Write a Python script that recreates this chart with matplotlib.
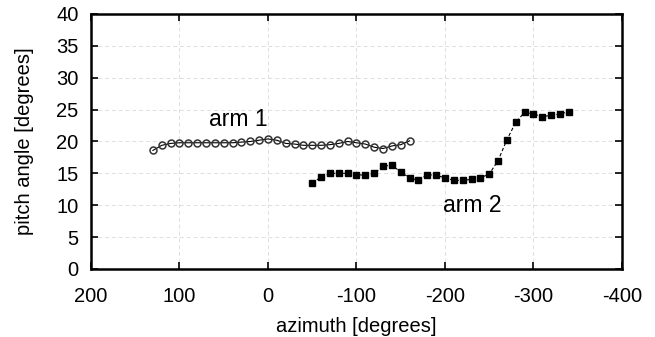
import matplotlib
matplotlib.use("Agg")
import matplotlib.pyplot as plt

plt.rcParams['font.family'] = ['Liberation Sans', 'DejaVu Sans']
plt.rcParams['axes.unicode_minus'] = False

arm1_azimuth = [130, 120, 110, 100, 90, 80, 70, 60, 50, 40, 30, 20, 10, 0,
                -10, -20, -30, -40, -50, -60, -70, -80, -90, -100, -110, -120,
                -130, -140, -150, -160]
arm1_pitch = [18.6, 19.4, 19.7, 19.8, 19.8, 19.8, 19.8, 19.8, 19.8, 19.8, 19.9,
              20.0, 20.2, 20.4, 20.2, 19.7, 19.6, 19.4, 19.4, 19.4, 19.5, 19.7,
              20.0, 19.8, 19.6, 19.1, 18.9, 19.3, 19.5, 20.1]

arm2_azimuth = [-50, -60, -70, -80, -90, -100, -110, -120, -130, -140, -150,
                -160, -170, -180, -190, -200, -210, -220, -230, -240, -250,
                -260, -270, -280, -290, -300, -310, -320, -330, -340]
arm2_pitch = [13.5, 14.4, 15.0, 15.0, 15.0, 14.8, 14.7, 15.0, 16.1, 16.3, 15.2,
              14.3, 13.9, 14.8, 14.7, 14.3, 13.9, 13.9, 14.05, 14.3, 14.9,
              17.0, 20.3, 23.0, 24.6, 24.3, 23.9, 24.1, 24.3, 24.7]

x_ticks = [200, 100, 0, -100, -200, -300, -400]
y_ticks = [0, 5, 10, 15, 20, 25, 30, 35, 40]

fig = plt.figure(figsize=(6.55, 3.37), dpi=100)
ax = fig.add_axes([0.1389, 0.2018, 0.8107, 0.7567])

ax.plot(arm1_azimuth, arm1_pitch, color='black', lw=0.8, marker='o', ms=5,
        mfc='none', mec='#333333', mew=1.1)
ax.plot(arm2_azimuth, arm2_pitch, color='black', lw=0.8, ls=(0, (3, 2)),
        marker='s', ms=5, mfc='black', mec='black')

ax.set_xlim(200, -400)
ax.set_ylim(0, 40)
ax.set_xticks(x_ticks)
ax.set_yticks(y_ticks)
ax.tick_params(direction='in', length=5, width=1.2, labelsize=14.5,
               top=True, right=True)
ax.tick_params(axis='x', pad=13)
ax.tick_params(axis='y', pad=9)
ax.grid(True, color='#dedede', ls=(0, (4, 3)), lw=0.7)
for s in ax.spines.values():
    s.set_linewidth(1.8)

ax.set_xlabel('azimuth [degrees]', fontsize=14.5, labelpad=8)
ax.set_ylabel('pitch angle [degrees]', fontsize=14.5, labelpad=16)

ax.text(34, 23.5, 'arm 1', fontsize=16.5, ha='center', va='center')
ax.text(-231, 10.0, 'arm 2', fontsize=16.5, ha='center', va='center')

fig.savefig('out.png', dpi=100)
